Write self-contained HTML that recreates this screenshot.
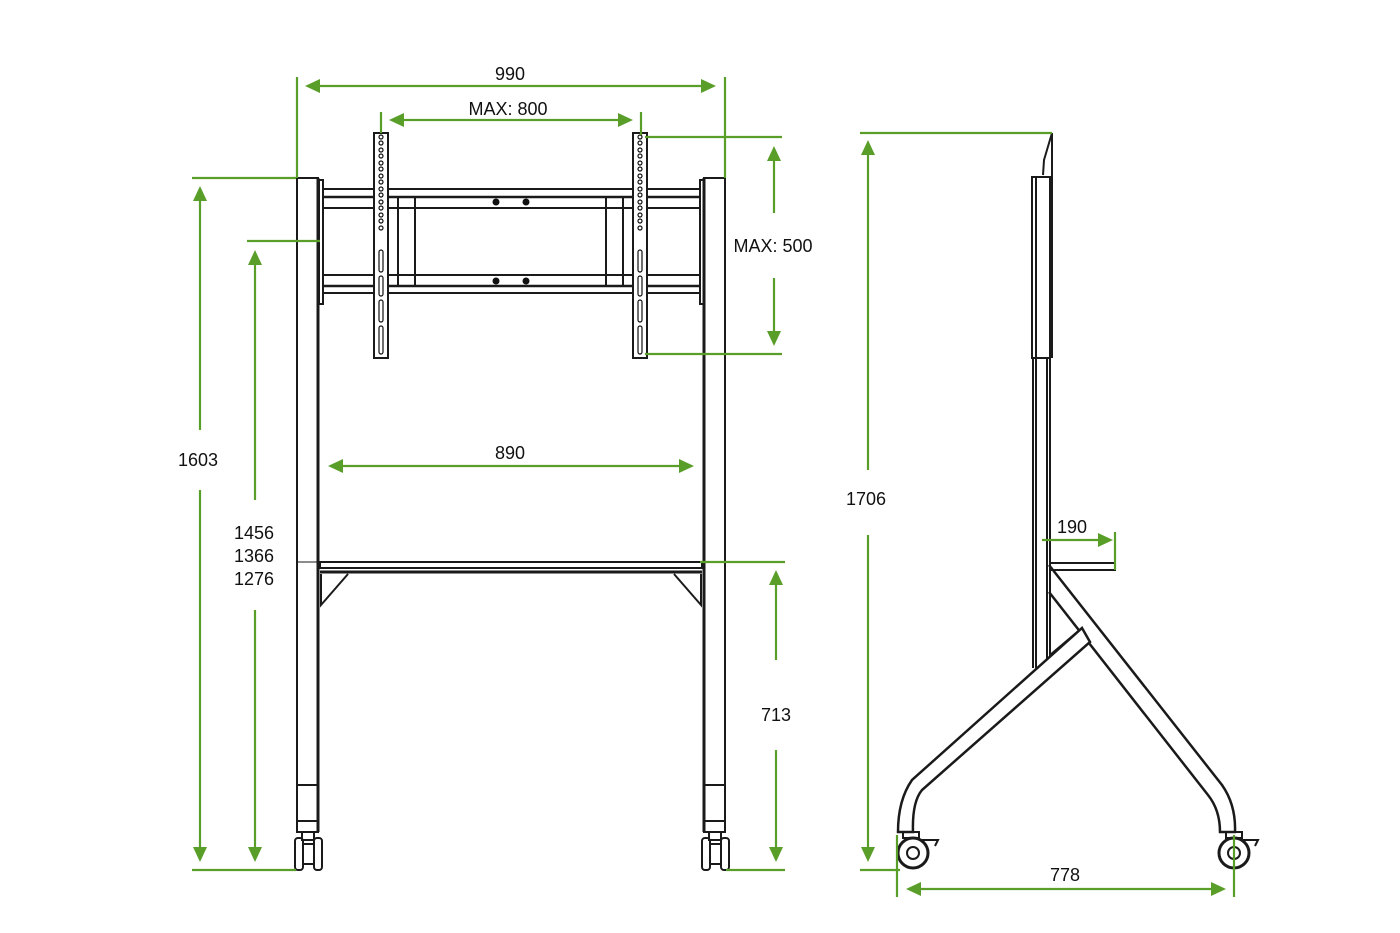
<!DOCTYPE html>
<html><head><meta charset="utf-8"><style>
html,body{margin:0;padding:0;background:#fff;}
svg{display:block;}
text{font-family:"Liberation Sans",Arial,sans-serif;font-size:18px;fill:#111;}
</style></head><body>
<svg width="1400" height="933" viewBox="0 0 1400 933" xmlns="http://www.w3.org/2000/svg">
<defs>
<marker id="a" viewBox="0 0 10 10" refX="9" refY="5" markerWidth="6" markerHeight="6" orient="auto-start-reverse" markerUnits="userSpaceOnUse">
</marker>
</defs>
<g fill="none" stroke="#1a1a1a" stroke-width="2">
<!-- posts -->
<rect x="297" y="178" width="21" height="654"/>
<line x1="318" y1="178" x2="318" y2="832" stroke-width="3"/>
<line x1="297" y1="562" x2="318" y2="562" stroke-width="1"/>
<line x1="297" y1="785" x2="318" y2="785"/>
<line x1="297" y1="821" x2="318" y2="821"/>
<rect x="704" y="178" width="21" height="654"/>
<line x1="704" y1="178" x2="704" y2="832" stroke-width="3"/>
<line x1="704" y1="562" x2="725" y2="562" stroke-width="1"/>
<line x1="704" y1="785" x2="725" y2="785"/>
<line x1="704" y1="821" x2="725" y2="821"/>
<!-- casters -->
<g id="c1"><rect x="302" y="832" width="12" height="8"/><rect x="295" y="838" width="8" height="32" rx="3"/><rect x="314" y="838" width="8" height="32" rx="3"/><rect x="303" y="844" width="11" height="20"/></g>
<use href="#c1" x="407"/>
<!-- bar end plates -->
<rect x="319" y="180" width="4" height="124"/>
<rect x="700" y="180" width="4" height="124"/>
<!-- crossbars -->
<line x1="322" y1="189" x2="700" y2="189"/>
<line x1="322" y1="197" x2="700" y2="197" stroke-width="2.5"/>
<line x1="322" y1="208" x2="700" y2="208"/>
<line x1="322" y1="275" x2="700" y2="275"/>
<line x1="322" y1="286" x2="700" y2="286" stroke-width="2.5"/>
<line x1="322" y1="293" x2="700" y2="293"/>
<line x1="398" y1="197" x2="398" y2="286"/>
<line x1="415" y1="197" x2="415" y2="286"/>
<line x1="606" y1="197" x2="606" y2="286"/>
<line x1="623" y1="197" x2="623" y2="286"/>
<!-- brackets -->
<rect x="374" y="133" width="14" height="225" fill="#fff"/>
<rect x="633" y="133" width="14" height="225" fill="#fff"/>
<!-- shelf -->
<rect x="320" y="562" width="382" height="6"/>
<line x1="320" y1="572" x2="702" y2="572" stroke-width="3"/>
<polyline points="321,574 321,605 348,574"/>
<polyline points="701,574 701,605 674,574"/>
<!-- side view -->
<polyline points="1052,133 1044,160 1043,175"/>
<line x1="1052" y1="133" x2="1052" y2="358"/>
<rect x="1032" y="177" width="18" height="181"/>
<line x1="1033" y1="358" x2="1033" y2="668"/>
<line x1="1036" y1="177" x2="1036" y2="668"/>
<line x1="1047" y1="358" x2="1047" y2="668"/>
<line x1="1050" y1="358" x2="1050" y2="668"/>
<rect x="1050" y="563" width="65" height="7"/>
<!-- rear leg -->
<path d="M1049,565 L1222,785 Q1236,805 1235,832 L1220,832 Q1220,810 1208,795 L1049,592" stroke-width="2.5"/>
<!-- front leg -->
<path d="M1082,628 L1090,642 L922,790 Q912,802 913,832 L898,832 Q898,800 912,780 Z" stroke-width="2.5" fill="#fff"/>
<line x1="1050" y1="655" x2="1082" y2="628"/>
<!-- wheels -->
<circle cx="913" cy="853" r="15" stroke-width="3"/><circle cx="913" cy="853" r="6"/>
<rect x="903" y="832" width="16" height="6"/><polyline points="922,840 938,840 935,846"/>
<circle cx="1234" cy="853" r="15" stroke-width="3"/><circle cx="1234" cy="853" r="6"/>
<rect x="1226" y="832" width="16" height="6"/><polyline points="1243,840 1258,840 1255,846"/>
</g>
<!-- holes & slots -->
<g fill="none" stroke="#111" stroke-width="1.2">
<g id="h"><circle cx="381" cy="137" r="2"/><circle cx="381" cy="143" r="2"/><circle cx="381" cy="150" r="2"/><circle cx="381" cy="156" r="2"/><circle cx="381" cy="163" r="2"/><circle cx="381" cy="169" r="2"/><circle cx="381" cy="176" r="2"/><circle cx="381" cy="182" r="2"/><circle cx="381" cy="189" r="2"/><circle cx="381" cy="195" r="2"/><circle cx="381" cy="202" r="2"/><circle cx="381" cy="208" r="2"/><circle cx="381" cy="215" r="2"/><circle cx="381" cy="221" r="2"/><circle cx="381" cy="228" r="2"/>
<rect x="379" y="250" width="4" height="22" rx="2"/><rect x="379" y="276" width="4" height="20" rx="2"/><rect x="379" y="300" width="4" height="22" rx="2"/><rect x="379" y="326" width="4" height="28" rx="2"/></g>
<use href="#h" x="259"/>
</g>
<g fill="#111"><circle cx="496" cy="202" r="3.5"/><circle cx="526" cy="202" r="3.5"/><circle cx="496" cy="281" r="3.5"/><circle cx="526" cy="281" r="3.5"/></g>
<!-- dimensions -->
<g stroke="#5a9e2a" stroke-width="2.2" fill="none">
<line x1="297" y1="77" x2="297" y2="178"/><line x1="725" y1="77" x2="725" y2="178"/>
<line x1="315" y1="86" x2="706" y2="86"/>
<line x1="381" y1="112" x2="381" y2="133"/><line x1="641" y1="112" x2="641" y2="135"/>
<line x1="400" y1="120" x2="622" y2="120"/>
<line x1="192" y1="178" x2="296" y2="178"/><line x1="192" y1="870" x2="296" y2="870"/>
<line x1="200" y1="196" x2="200" y2="430"/><line x1="200" y1="490" x2="200" y2="852"/>
<line x1="247" y1="241" x2="320" y2="241"/>
<line x1="255" y1="260" x2="255" y2="500"/><line x1="255" y1="610" x2="255" y2="852"/>
<line x1="338" y1="466" x2="684" y2="466"/>
<line x1="645" y1="137" x2="782" y2="137"/><line x1="645" y1="354" x2="782" y2="354"/>
<line x1="774" y1="156" x2="774" y2="213"/><line x1="774" y1="278" x2="774" y2="336"/>
<line x1="700" y1="562" x2="785" y2="562"/><line x1="726" y1="870" x2="785" y2="870"/>
<line x1="776" y1="580" x2="776" y2="660"/><line x1="776" y1="750" x2="776" y2="852"/>
<line x1="860" y1="133" x2="1052" y2="133"/><line x1="860" y1="870" x2="900" y2="870"/>
<line x1="868" y1="150" x2="868" y2="470"/><line x1="868" y1="535" x2="868" y2="852"/>
<line x1="1042" y1="540" x2="1103" y2="540"/><line x1="1115" y1="532" x2="1115" y2="570"/>
<line x1="897" y1="835" x2="897" y2="897"/><line x1="1234" y1="835" x2="1234" y2="897"/>
<line x1="916" y1="889" x2="1216" y2="889"/>
</g>
<g fill="#5a9e2a">
<polygon points="305,86 320,79 320,93"/><polygon points="716,86 701,79 701,93"/>
<polygon points="389,120 404,113 404,127"/><polygon points="633,120 618,113 618,127"/>
<polygon points="200,186 193,201 207,201"/><polygon points="200,862 193,847 207,847"/>
<polygon points="255,250 248,265 262,265"/><polygon points="255,862 248,847 262,847"/>
<polygon points="328,466 343,459 343,473"/><polygon points="694,466 679,459 679,473"/>
<polygon points="774,146 767,161 781,161"/><polygon points="774,346 767,331 781,331"/>
<polygon points="776,570 769,585 783,585"/><polygon points="776,862 769,847 783,847"/>
<polygon points="868,140 861,155 875,155"/><polygon points="868,862 861,847 875,847"/>
<polygon points="1113,540 1098,533 1098,547"/>
<polygon points="906,889 921,882 921,896"/><polygon points="1226,889 1211,882 1211,896"/>
</g>
<g text-anchor="middle">
<text x="510" y="80">990</text>
<text x="508" y="115">MAX: 800</text>
<text x="198" y="466">1603</text>
<text x="254" y="539">1456</text>
<text x="254" y="562">1366</text>
<text x="254" y="585">1276</text>
<text x="510" y="459">890</text>
<text x="773" y="252">MAX: 500</text>
<text x="776" y="721">713</text>
<text x="866" y="505">1706</text>
<text x="1072" y="533">190</text>
<text x="1065" y="881">778</text>
</g>
</svg>
</body></html>
